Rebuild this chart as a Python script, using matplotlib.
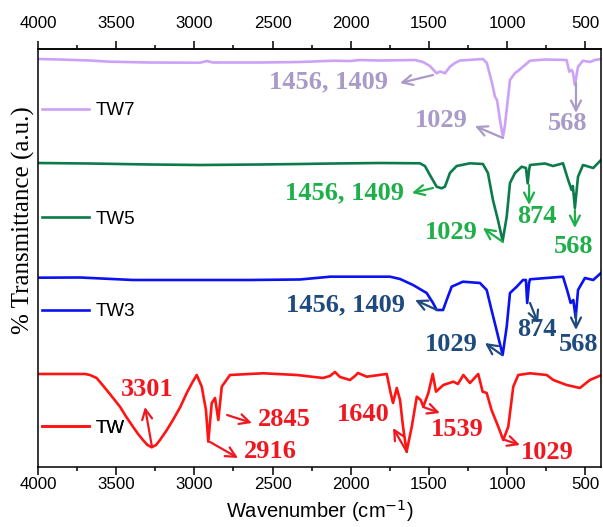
import matplotlib
matplotlib.use("Agg")
import matplotlib.pyplot as plt

# ---------------- data ----------------
labels = ["TW7", "TW5", "TW3", "TW"]
major_ticks = [4000, 3500, 3000, 2500, 2000, 1500, 1000, 500]
minor_ticks = [3750, 3250, 2750, 2250, 1750, 1250, 750]

tw7_wn = [4000, 3859, 3668, 3540, 3284, 2964, 2920, 2881, 2580, 2325, 2114, 2005, 1941, 1813,
          1590, 1538, 1494, 1451, 1430, 1417, 1398, 1366, 1334, 1302, 1155, 1130, 1097, 1078,
          1065, 1046, 1027, 1014, 1001, 982, 950, 931, 899, 854, 758, 620, 603, 588, 580, 567,
          547, 515, 471, 439, 400]
tw7_t = [408, 407.5, 406.5, 405.3, 404.5, 404.3, 406, 404.5, 404.5, 405, 406.3, 406, 407, 406.5,
         407, 405, 401, 393.7, 395.5, 395, 393.7, 400.3, 404, 406.5, 408, 404, 384, 370.3,
         367, 347, 330, 342, 360.3, 387, 394, 396, 400.3, 406.3, 407.5, 407, 395.3, 397, 395, 382,
         400.3, 406.3, 405, 407, 408]

tw5_wn = [4000, 3668, 3284, 2964, 2580, 2325, 2114, 1813, 1558, 1526, 1494, 1451, 1419, 1398,
          1366, 1323, 1238, 1155, 1123, 1091, 1059, 1029, 1003, 982, 950, 907, 880, 869, 860,
          854, 758, 707, 643, 610, 588, 580, 567, 547, 515, 450, 400]
tw5_t = [304, 303.5, 302.5, 302, 302.5, 303, 303.5, 304, 303.7, 301, 292, 280.3, 278.7, 280.3,
         294, 301, 303.7, 303, 294, 267, 247, 226, 250.3, 284, 294, 300.3, 299, 283.7, 297,
         302, 303.5, 301, 303.7, 287, 277, 281, 259, 290.3, 302, 299, 307]

tw3_wn = [4000, 3731, 3393, 2964, 2644, 2325, 2152, 2133, 1749, 1685, 1602, 1515, 1474, 1451,
          1410, 1387, 1355, 1283, 1174, 1131, 1100, 1068, 1029, 1003, 982, 939, 899, 880, 872,
          860, 854, 643, 617, 594, 577, 562, 547, 503, 450, 400]
tw3_t = [189.3, 189.5, 187, 187, 187, 187.5, 190, 190.3, 190.3, 188, 182, 174, 164, 157,
         157, 167, 180.3, 185.3, 184, 177, 157, 137, 112, 140.3, 174, 180.3, 187, 187, 164,
         184, 187.7, 190.3, 177, 164, 167, 149, 177, 189, 187, 194]

tw_wn = [4000, 3859, 3700, 3668, 3625, 3561, 3520, 3476, 3435, 3393, 3360, 3329, 3300, 3273,
         3245, 3220, 3180, 3137, 3090, 3049, 3015, 2985, 2953,
         2926, 2911, 2889, 2868, 2847, 2825, 2772, 2561, 2346, 2178, 2133, 2101, 2069, 2005,
         1973, 1954, 1898, 1770, 1745, 1730, 1706, 1685, 1666, 1643, 1610, 1578, 1553, 1536,
         1504, 1476, 1455, 1408, 1344, 1315, 1280, 1238, 1185, 1157, 1131, 1100, 1057, 1025,
         993, 961, 929, 854, 747, 705, 620, 535, 471, 396]
tw_t = [93, 93, 93, 92, 89, 77, 69, 60.3, 50, 40.3, 33, 27, 22, 19.7,
        22, 27, 36, 47, 60, 74, 84, 92, 80.3,
        57, 25.3, 64, 69, 47, 80.3, 92, 93.7, 92, 89, 91, 95, 90, 87,
        91, 94, 90.3, 93, 74, 64, 79, 67, 40.3, 15.3, 40.3, 70.3, 67, 60.3,
        74, 93, 75.3, 82, 85.3, 83, 92, 84, 93, 75.3, 74, 57, 40.3, 27,
        40.3, 80.3, 92, 93.7, 92, 87, 82, 79, 87, 92]

series_wn = [tw7_wn, tw5_wn, tw3_wn, tw_wn]
series_t = [tw7_t, tw5_t, tw3_t, tw_t]

# peak annotations: (label, arrow tail (wn, a.u.), arrow head (wn, a.u.), text centre (wn, a.u.))
tw7_peaks = [("1456, 1409", (1474, 392), (1685, 384), (2142, 385)),
             ("1029", (1027, 329), (1206, 341), (1423, 347)),
             ("568", (560, 384), (560, 354), (611, 344))]
tw5_peaks = [("1456, 1409", (1474, 279), (1609, 274), (2040, 274)),
             ("1029", (1027, 225), (1155, 239), (1359, 234)),
             ("874", (860, 282), (860, 262), (809, 250)),
             ("568", (567, 257), (567, 239), (573, 220))]
tw3_peaks = [("1456, 1409", (1449, 157), (1589, 167), (2031, 162)),
             ("1029", (1033, 112), (1142, 124), (1359, 122)),
             ("874", (854, 164), (803, 144), (809, 137)),
             ("568", (560, 154), (560, 137), (541, 122))]
tw_peaks = [("3301", (3271, 20), (3316, 60), (3303, 77)),
            ("2845", (2791, 52), (2632, 44), (2427, 47)),
            ("2916", (2900, 25), (2721, 9), (2517, 15)),
            ("1640", (1641, 15), (1730, 39), (1922, 52)),
            ("1539", (1538, 60), (1430, 54), (1321, 37)),
            ("1029", (1014, 27), (918, 22), (745, 14))]
peaks = [tw7_peaks, tw5_peaks, tw3_peaks, tw_peaks]

# legend label vertical positions (axes fraction)
legend_y = [0.852, 0.593, 0.371, 0.093]

# ---------------- style ----------------
line_colors = ["#CCA2F6", "#0C7B4C", "#0B12F2", "#FF1414"]
ann_colors = ["#A99AC8", "#1FAF4A", "#1F4A7E", "#F01820"]
sans = ["Liberation Sans", "DejaVu Sans"]
serif = ["Liberation Serif", "DejaVu Serif"]

fig = plt.figure(figsize=(6.03, 5.27), dpi=100)
ax = fig.add_axes([0.063, 0.1139, 0.9337, 0.7931])

lines = []
for wn, t, c in zip(series_wn, series_t, line_colors):
    ln, = ax.plot(wn, t, color=c, lw=1.9, solid_joinstyle="round")
    lines.append(ln)

for pk, c in zip(peaks, ann_colors):
    for lab, tail, head, txt in pk:
        ax.annotate("", xy=head, xytext=tail,
                    arrowprops=dict(arrowstyle="->", color=c, lw=1.6,
                                    mutation_scale=18, shrinkA=0, shrinkB=0))
        ax.text(txt[0], txt[1], lab, color=c, fontsize=19, fontweight="bold",
                family=serif, ha="center", va="center")

for ln, lab, y in zip(lines, labels, legend_y):
    leg = ax.legend([ln], [lab], loc="center left", bbox_to_anchor=(0.007, y),
                    frameon=False, borderpad=0, borderaxespad=0,
                    handlelength=2.5, handletextpad=0.35,
                    prop=dict(family=sans, size=13.5))
    ax.add_artist(leg)

ax.set_xlim(4000, 400)
ax.set_ylim(0, 418)
ax.set_yticks([])
ax.set_xticks(major_ticks)
ax.set_xticks(minor_ticks, minor=True)
ax.tick_params(axis="x", which="both", direction="out", top=False, bottom=True, width=1.1)
ax.tick_params(axis="x", which="major", length=6, pad=1.5, labelsize=12.2)
ax.tick_params(axis="x", which="minor", length=3)
for lab in ax.get_xticklabels():
    lab.set_family(sans)

sec = ax.secondary_xaxis("top")
sec.set_xticks(major_ticks)
sec.set_xticks(minor_ticks, minor=True)
sec.tick_params(axis="x", which="both", direction="out", width=1.1)
sec.tick_params(axis="x", which="major", length=6, pad=7, labelsize=12.2)
sec.tick_params(axis="x", which="minor", length=3)
for lab in sec.get_xticklabels():
    lab.set_family(sans)
sec.spines["top"].set_linewidth(1.1)

for sp in ax.spines.values():
    sp.set_linewidth(1.1)

ax.set_xlabel("Wavenumber (cm$^{-1}$)", family=sans, fontsize=14.5, labelpad=4)
ax.set_ylabel("% Transmittance (a.u.)", family=serif, fontsize=18)
ax.yaxis.set_label_coords(-0.006, 0.59)

fig.savefig("out.png", dpi=100)
